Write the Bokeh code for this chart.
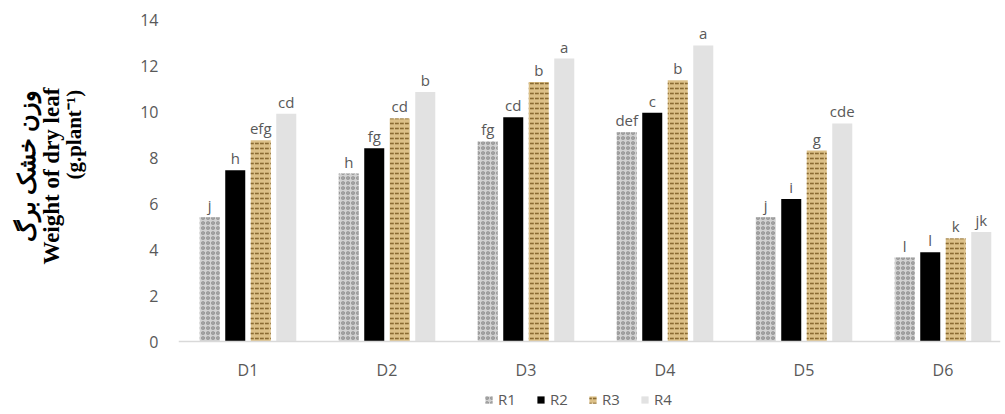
import numpy as np
from bokeh.plotting import figure
from bokeh.models import Range1d, FixedTicker, Legend, LegendItem, ColumnDataSource, LinearAxis, Span
from bokeh.core.properties import value
from bokeh.embed import file_html
from bokeh.resources import INLINE

groups = ["D1", "D2", "D3", "D4", "D5", "D6"]
series = ["R1", "R2", "R3", "R4"]
r1 = [5.4, 7.3, 8.7, 9.1, 5.4, 3.65]
r2 = [7.45, 8.4, 9.75, 9.95, 6.2, 3.88]
r3 = [8.75, 9.7, 11.28, 11.36, 8.3, 4.48]
r4 = [9.9, 10.85, 12.3, 12.87, 9.48, 4.76]
let1 = ["j", "h", "fg", "def", "j", "l"]
let2 = ["h", "fg", "cd", "c", "i", "l"]
let3 = ["efg", "cd", "b", "b", "g", "k"]
let4 = ["cd", "b", "a", "a", "cde", "jk"]
y_ticks = [0, 2, 4, 6, 8, 10, 12, 14]

values = [r1, r2, r3, r4]
letters = [let1, let2, let3, let4]

styles = [
    dict(fill_color="#d2d2d2", hatch_pattern="ring", hatch_color="#878787", hatch_scale=5, hatch_weight=1.2),
    dict(fill_color="#000000"),
    dict(fill_color="#dcc088", hatch_pattern="horizontal_dash", hatch_color="#8a6a32", hatch_scale=5, hatch_weight=1.6),
    dict(fill_color="#e2e2e2"),
]

TXT = "#595959"
FONT = "Open Sans"

p = figure(frame_width=822, frame_height=402, output_backend="svg", toolbar_location=None,
           min_border_left=178, min_border_right=5, min_border_top=12, min_border_bottom=0,
           x_range=Range1d(0, 822 / 139), y_range=Range1d(-73 / 23, 329 / 23))
p.outline_line_color = None
p.xgrid.grid_line_color = None
p.ygrid.grid_line_color = None

centers = np.arange(len(groups)) + 0.5
pitch = 0.1835
bw = 0.144
items = []
for i, (s, vals, lets, st) in enumerate(zip(series, values, letters, styles)):
    xs = centers + (i - 1.5) * pitch
    src = ColumnDataSource(dict(x=xs, top=vals, lab=lets))
    r = p.vbar(x="x", top="top", width=bw, bottom=0, source=src, line_color=None, **st)
    p.text(x="x", y="top", text="lab", source=src, text_align="center", text_baseline="alphabetic",
           y_offset=-12, text_font=value(FONT), text_font_size="15px", text_color=TXT)
    items.append(LegendItem(label=s, renderers=[r]))

# category axis: baseline + labels
p.xaxis.visible = False
p.add_layout(Span(location=0, dimension="width", line_color="#d9d9d9", line_width=1.5))
cat_src = ColumnDataSource(dict(x=centers, y=[0] * len(groups), lab=groups))
p.text(x="x", y="y", text="lab", source=cat_src, text_align="center", text_baseline="middle",
       y_offset=28, text_font=value(FONT), text_font_size="16px", text_color=TXT)

# y axis (tick labels)
p.yaxis.ticker = FixedTicker(ticks=y_ticks)
p.yaxis.axis_line_color = None
p.yaxis.major_tick_line_color = None
p.yaxis.minor_tick_line_color = None
p.yaxis.major_tick_out = 0
p.yaxis.major_label_standoff = 20
p.yaxis.major_label_text_font = FONT
p.yaxis.major_label_text_font_size = "16px"
p.yaxis.major_label_text_color = TXT

# y-axis title, three lines as stacked label-only axes
NB = "\u00a0"
ylab_lines = [NB * 30 + "(g.plant⁻¹)", NB * 13 + "Weight of dry leaf", "\u200e" + NB * 16 + "وزن خشک برگ"]
ylab_standoffs = [52, -5, -4]
ylab_sizes = ["21px", "23px", "24px"]
for t, so, fs in zip(ylab_lines, ylab_standoffs, ylab_sizes):
    ax = LinearAxis(ticker=FixedTicker(ticks=[]), axis_label=t, axis_label_standoff=so,
                    axis_line_color=None, major_tick_line_color=None, minor_tick_line_color=None,
                    major_tick_out=0, major_label_standoff=0,
                    axis_label_text_font="Liberation Serif", axis_label_text_font_style="bold",
                    axis_label_text_font_size=fs, axis_label_text_color="#000000")
    p.add_layout(ax, "left")

legend = Legend(items=items, orientation="horizontal", location=(306, 5),
                glyph_width=9, glyph_height=9, label_height=14, label_standoff=5, spacing=18,
                padding=0, margin=0, border_line_color=None, background_fill_alpha=0,
                label_text_font=FONT, label_text_font_size="15px", label_text_color=TXT)
p.add_layout(legend, "center")

open("out.html", "w").write(file_html(p, INLINE))
